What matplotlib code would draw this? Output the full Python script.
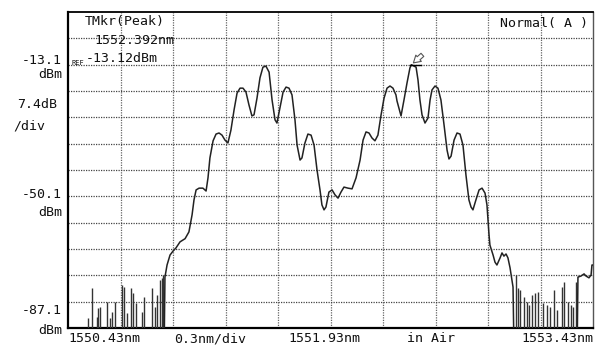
import numpy as np
import matplotlib
matplotlib.use("Agg")
import matplotlib.pyplot as plt

# ---- instrument settings ----
x_start = 1550.43      # nm
x_center = 1551.93     # nm
x_stop = 1553.43       # nm
x_div = 0.3            # nm/div
ref_level = -13.1      # dBm
y_div = 7.4            # dB/div
n_ydiv = 12
floor_dbm = -95.0      # below display -> clipped

# ---- main trace (wavelength nm, power dBm) ----
trace_nm = [1550.979, 1550.984, 1550.996, 1551.013, 1551.030, 1551.047, 1551.070, 1551.099,
            1551.121, 1551.139, 1551.150, 1551.162, 1551.179, 1551.201, 1551.219, 1551.230,
            1551.241, 1551.259, 1551.276, 1551.293, 1551.310, 1551.327, 1551.344, 1551.361,
            1551.379, 1551.396, 1551.413, 1551.430, 1551.447, 1551.464, 1551.481, 1551.493,
            1551.510, 1551.527, 1551.544, 1551.561, 1551.579, 1551.596, 1551.613, 1551.624,
            1551.641, 1551.659, 1551.676, 1551.693, 1551.710, 1551.727, 1551.739, 1551.756,
            1551.767, 1551.784, 1551.801, 1551.819, 1551.836, 1551.853, 1551.870, 1551.881,
            1551.893, 1551.904, 1551.921, 1551.939, 1551.956, 1551.973, 1551.990, 1552.007,
            1552.030, 1552.053, 1552.076, 1552.099, 1552.116, 1552.133, 1552.150, 1552.167,
            1552.184, 1552.201, 1552.219, 1552.236, 1552.253, 1552.270, 1552.287, 1552.304,
            1552.310, 1552.333, 1552.350, 1552.367, 1552.384, 1552.392, 1552.419, 1552.430,
            1552.441, 1552.453, 1552.470, 1552.487, 1552.499, 1552.510, 1552.527, 1552.544,
            1552.561, 1552.579, 1552.596, 1552.607, 1552.619, 1552.636, 1552.653, 1552.670,
            1552.687, 1552.704, 1552.721, 1552.733, 1552.744, 1552.761, 1552.779, 1552.796,
            1552.813, 1552.824, 1552.830, 1552.836, 1552.841, 1552.859, 1552.870, 1552.881,
            1552.899, 1552.910, 1552.921, 1552.933, 1552.944, 1552.956, 1552.967, 1552.973,
            1552.979]
trace_dbm = [-95.0, -72.8, -69.4, -66.6, -65.5, -64.6, -62.9, -62.0,
             -60.1, -55.3, -51.1, -48.3, -47.8, -47.8, -48.6, -44.9,
             -39.3, -34.5, -32.6, -32.3, -32.9, -34.3, -35.1, -31.5,
             -25.8, -21.1, -19.7, -19.7, -20.8, -24.4, -27.5, -27.2,
             -22.5, -16.8, -13.8, -13.5, -15.2, -23.0, -28.6, -29.5,
             -25.3, -20.8, -19.4, -19.7, -21.6, -28.6, -35.7, -39.9,
             -39.3, -35.1, -32.6, -32.9, -35.7, -42.7, -48.3, -52.5,
             -53.9, -53.1, -48.9, -48.3, -49.7, -50.6, -48.9, -47.5,
             -47.8, -48.0, -44.9, -39.9, -34.3, -32.0, -32.3, -33.7,
             -34.5, -32.9, -27.2, -22.5, -19.7, -19.1, -19.7, -21.6,
             -23.3, -27.5, -23.0, -18.3, -14.0, -13.12, -13.8, -17.4,
             -23.0, -27.2, -29.5, -28.1, -23.0, -20.2, -19.1, -19.7,
             -23.0, -30.1, -37.1, -39.6, -38.8, -34.3, -32.3, -32.6,
             -35.7, -44.1, -51.1, -53.1, -53.9, -51.1, -48.3, -47.8,
             -49.2, -52.5, -56.8, -61.0, -63.8, -66.6, -68.6, -69.4,
             -67.4, -66.0, -66.9, -66.3, -67.4, -70.2, -73.6, -75.6,
             -95.0]

# right-edge trace
edge_nm = [1553.339, 1553.344, 1553.361, 1553.379, 1553.390, 1553.407, 1553.419, 1553.424, 1553.430]
edge_dbm = [-95.0, -72.8, -72.5, -71.9, -72.5, -73.0, -72.2, -69.4, -69.4]

# noise-floor spikes (wavelength nm, peak dBm)
spike_nm = [1550.544, 1550.567, 1550.596, 1550.601, 1550.613, 1550.653, 1550.670, 1550.681,
            1550.699, 1550.739, 1550.750, 1550.767, 1550.790, 1550.801, 1550.819, 1550.853,
            1550.864, 1550.910, 1550.927, 1550.939, 1550.956, 1550.967, 1550.973,
            1552.990, 1553.001, 1553.013, 1553.036, 1553.053, 1553.064, 1553.081, 1553.099,
            1553.116, 1553.144, 1553.167, 1553.184, 1553.207, 1553.224, 1553.253, 1553.264,
            1553.287, 1553.304, 1553.316, 1553.333]
spike_dbm = [-84.3, -75.9, -84.0, -81.5, -81.2, -79.8, -84.3, -82.6,
             -79.8, -75.0, -75.6, -82.9, -75.9, -77.3, -80.1, -82.6,
             -78.4, -75.9, -81.2, -77.8, -73.6, -73.0, -72.2,
             -72.2, -75.9, -76.4, -78.4, -79.8, -80.6, -77.8, -77.3,
             -77.0, -80.1, -80.6, -81.2, -76.4, -82.0, -75.6, -74.2,
             -79.8, -80.6, -81.2, -74.2]

# marker
mkr_nm = 1552.392
mkr_dbm = -13.12

# ---- figure ----
W, H = 598, 349
fig = plt.figure(figsize=(W / 100, H / 100), dpi=100)
fig.patch.set_facecolor("white")
L, R, T, B = 68, 593, 12, 328
ax = fig.add_axes([L / W, 1 - B / H, (R - L) / W, (B - T) / H])

y_bottom = ref_level - (n_ydiv - 2) * y_div
y_top = ref_level + 2 * y_div
ax.set_xlim(x_start, x_stop)
ax.set_ylim(y_bottom, y_top)

xt = x_start + x_div * np.arange(1, 10)
yt = y_bottom + y_div * np.arange(1, n_ydiv)
for v in xt:
    ax.axvline(v, color="#666666", lw=0.9, ls=(0, (1, 1)), zorder=1)
for v in yt:
    ax.axhline(v, color="#444444", lw=0.9, ls=(0, (1, 1)), zorder=1)
ax.set_xticks([])
ax.set_yticks([])

for s in ["left", "bottom"]:
    ax.spines[s].set_linewidth(1.6)
    ax.spines[s].set_color("black")
ax.spines["top"].set_linewidth(1.3)
ax.spines["right"].set_linewidth(1.0)
ax.spines["right"].set_color("#555555")

ax.vlines(spike_nm, floor_dbm, spike_dbm, colors="#333333", lw=1.0, zorder=3)
ax.plot(trace_nm, trace_dbm, color="#222222", lw=1.1, zorder=4)
ax.plot(edge_nm, edge_dbm, color="#222222", lw=1.1, zorder=4)

# marker arrow (hollow)
ax.annotate("", xy=(mkr_nm, mkr_dbm), xytext=(mkr_nm + 0.075, mkr_dbm + 3.3),
            arrowprops=dict(arrowstyle="simple,head_length=0.5,head_width=0.6,tail_width=0.3",
                            fc="white", ec="#555555", lw=0.8), zorder=5)
ax.plot([mkr_nm - 0.01, mkr_nm + 0.055], [mkr_dbm, mkr_dbm], color="black", lw=1.0, zorder=5)

mono = "DejaVu Sans Mono"
fs = 9.5

def ftext(x, y, s, ha="left", size=fs, **kw):
    fig.text(x / W, 1 - y / H, s, ha=ha, va="center", fontsize=size, family=mono, color="#111111", **kw)

# left scale labels
ftext(62, 60, f"{ref_level:.1f}", ha="right")
ftext(62, 75, "dBm", ha="right")
ftext(57, 104, f"{y_div:.1f}dB", ha="right")
ftext(45, 126, "/div", ha="right")
ftext(62, 195, f"{ref_level - 5 * y_div:.1f}", ha="right")
ftext(62, 212, "dBm", ha="right")
ftext(62, 310, f"{y_bottom:.1f}", ha="right")
ftext(62, 330, "dBm", ha="right")

# bottom labels
ftext(68, 339, f"{x_start:.2f}nm")
ftext(174, 339, f"{x_div:.1f}nm/div")
ftext(288, 339, f"{x_center:.2f}nm")
ftext(407, 339, "in Air")
ftext(593, 339, f"{x_stop:.2f}nm", ha="right")

# in-plot annotations
ftext(85, 22, "TMkr(Peak)")
ftext(94, 41, f"{mkr_nm:.3f}nm")
ftext(71, 63, "REF", size=5)
ftext(86, 59, f"{mkr_dbm:.2f}dBm")
ftext(588, 23, "Normal( A )", ha="right")

fig.savefig("out.png", dpi=100)
